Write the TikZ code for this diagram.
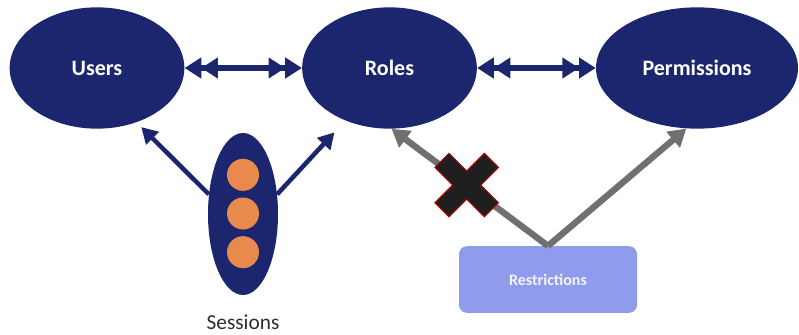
\documentclass[tikz,border=0pt]{standalone}
\usepackage{fontspec}
\setmainfont{Carlito}
\usetikzlibrary{positioning,shapes.geometric,arrows.meta}
\definecolor{navy}{RGB}{27,38,110}
\definecolor{dotorange}{RGB}{231,138,76}
\definecolor{linkgray}{RGB}{112,112,112}
\definecolor{boxblue}{RGB}{143,156,235}
\begin{document}
\begin{tikzpicture}[
    x=0.75pt, y=-0.75pt,
    >={Triangle[length=12.5pt,width=15pt]},
    entity/.style={%
      ellipse,
      fill=navy,
      inner sep=0pt,
      minimum width=131pt,
      minimum height=91pt,
      text=white,
      font=\fontsize{16.5}{19}\selectfont\bfseries,
    },
    session/.style={%
      ellipse,
      fill=navy,
      inner sep=0pt,
      minimum width=52.5pt,
      minimum height=121.5pt,
    },
    dot/.style={%
      circle,
      fill=dotorange,
      inner sep=0pt,
      minimum size=24pt,
    },
    restr/.style={%
      rectangle,
      rounded corners=6pt,
      fill=boxblue,
      minimum width=133.5pt,
      minimum height=50pt,
      text={rgb,255:red,242;green,244;blue,255},
      font=\fontsize{12}{14}\selectfont\bfseries,
    },
    link/.style={draw=navy, line width=4.8pt, <<->>},
    use/.style={draw=navy, line width=3.4pt, -{Triangle[length=12pt,width=13pt]}},
    limit/.style={draw=linkgray, line width=4.8pt, -{Triangle[length=13pt,width=15pt]}},
    cross/.style={fill=black!88, draw=red!75!black, line width=0.7pt},
  ]
    \useasboundingbox (0,0) rectangle (799,335);

    \node [entity] (users) at (97,68) {Users};
    \node [entity] (roles) at (389.5,68) {Roles};
    \node [entity, minimum width=151.5pt] (perm) at (697,68) {Permissions};

    \node [session] (sess) at (243,214) {};
    \node [dot] (s2) at (243,213.5) {};
    \node [dot, above=29pt of s2.center, anchor=center] (s1) {};
    \node [dot, below=29pt of s2.center, anchor=center] (s3) {};
    \node [text={rgb,255:red,45;green,45;blue,45}, font=\fontsize{16}{19}\selectfont]
      (slabel) at (243,322) {Sessions};

    \node [restr] (rest) at (548,279.5) {Restrictions};

    \draw [link] (users) -- (roles);
    \draw [link] (roles) -- (perm);
    \draw [use, shorten >=5pt] (sess.150) -- (users.-54);
    \draw [use, shorten >=12pt] (sess.30) -- (roles.-130);
    \draw [limit] (rest.north) -- coordinate [pos=0.52] (cut) (roles.-88);
    \draw [limit] (rest.north) -- (perm.-100);

    \begin{scope}[shift={(cut)}, rotate=45]
      \filldraw [cross] (10,35) -- (10,10) -- (35,10) -- (35,-10) -- (10,-10)
        -- (10,-35) -- (-10,-35) -- (-10,-10) -- (-35,-10) -- (-35,10)
        -- (-10,10) -- (-10,35) -- cycle;
    \end{scope}
\end{tikzpicture}
\end{document}
